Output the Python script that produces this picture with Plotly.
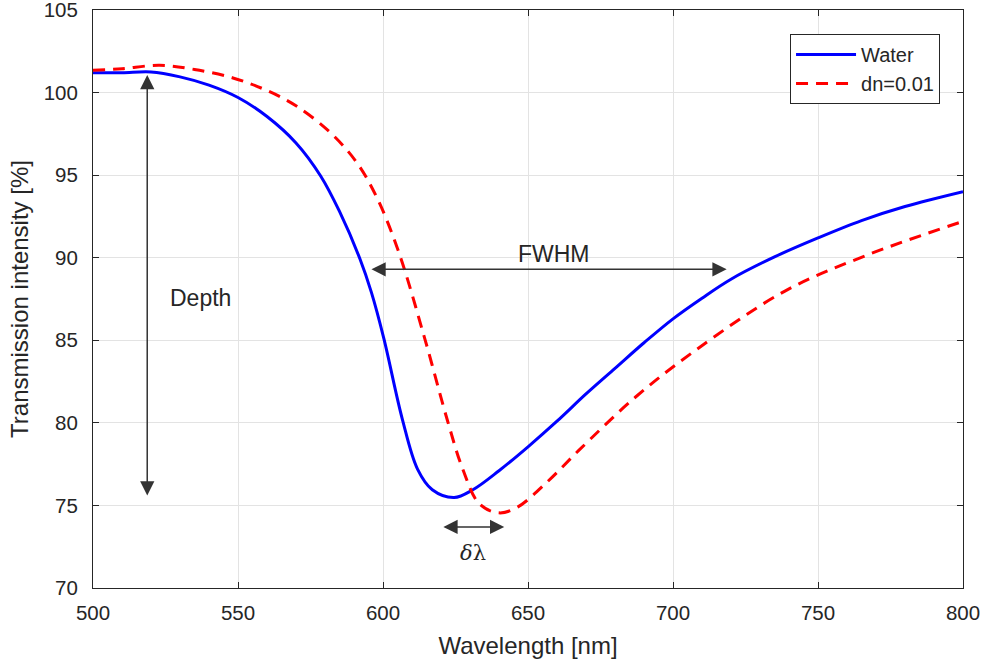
import plotly.graph_objects as go

# Transmission spectra: water reference and index-shifted (dn = 0.01)
water_wl = [500, 510, 520, 530, 540, 550, 560, 570, 578.5, 585, 592, 596, 600.3,
            606.7, 611.9, 617, 624.5, 631, 640, 650, 660, 670, 680, 690, 700, 710,
            720, 735, 750, 765, 780, 800]
water_t = [101.2, 101.2, 101.25, 100.95, 100.45, 99.7, 98.55, 96.95, 94.95, 92.8, 89.95,
           87.9, 85.1, 80.2, 77.2, 75.95, 75.48, 75.95, 77.1, 78.55, 80.1, 81.75,
           83.3, 84.85, 86.3, 87.55, 88.7, 90.05, 91.2, 92.25, 93.1, 94.0]

dn_wl = [500, 510, 523, 535, 548, 559, 570, 582, 591, 598, 605.5, 614.4, 622.3,
         627.5, 633.2, 640, 646.4, 656.8, 667.5, 687, 707.5, 738.6, 767.4, 800]
dn_t = [101.35, 101.45, 101.65, 101.4, 100.9, 100.2, 99.2, 97.55, 95.75, 93.6,
        90.3, 85.1, 80.1, 77.2, 75.1, 74.55, 74.9, 76.45, 78.33, 81.55, 84.36,
        87.98, 90.19, 92.2]

series_names = ["Water", "dn=0.01"]
x_ticks = [500, 550, 600, 650, 700, 750, 800]
y_ticks = [70, 75, 80, 85, 90, 95, 100, 105]

# Annotation arrows: (x0, y0, x1, y1)
depth_arrow = (518.7, 101.15, 518.7, 75.6)
fwhm_arrow = (595.5, 89.3, 718.5, 89.3)
dl_arrow = (620.3, 73.7, 641.8, 73.7)

FONT = "Liberation Sans, Arial, Helvetica, sans-serif"
AX = "#262626"

fig = go.Figure()
fig.add_trace(go.Scatter(x=water_wl, y=water_t, mode="lines", name=series_names[0],
                         line=dict(color="#0000ff", width=3, shape="spline", smoothing=1.0)))
fig.add_trace(go.Scatter(x=dn_wl, y=dn_t, mode="lines", name=series_names[1],
                         line=dict(color="#ff0000", width=3, dash="12px,8px",
                                   shape="spline", smoothing=1.0)))

for x0, y0, x1, y1 in (depth_arrow, fwhm_arrow, dl_arrow):
    fig.add_annotation(x=x1, y=y1, ax=x0, ay=y0, xref="x", yref="y", axref="x", ayref="y",
                       text="", showarrow=True, arrowhead=2, arrowsize=1.9,
                       arrowwidth=1.5, arrowcolor="#333333", arrowside="end+start")

fig.add_annotation(x=537, y=87.56, text="Depth", showarrow=False,
                   font=dict(family=FONT, size=23, color=AX))
fig.add_annotation(x=659, y=90.2, text="FWHM", showarrow=False,
                   font=dict(family=FONT, size=23, color=AX))
fig.add_annotation(x=631, y=72.1, text="<i>δ</i>λ", showarrow=False,
                   font=dict(family="DejaVu Serif, serif", size=21, color=AX))

axis_common = dict(showline=True, linecolor=AX, linewidth=1, mirror="allticks",
                   ticks="inside", ticklen=6, tickcolor=AX, showgrid=True,
                   gridcolor="#e3e3e3", gridwidth=1, zeroline=False,
                   ticklabeloverflow="allow", automargin=False,
                   tickfont=dict(family=FONT, size=20.5, color=AX))

fig.update_xaxes(range=[500, 800], tickvals=x_ticks, ticklabelstandoff=6,
                 title=dict(text="Wavelength [nm]",
                            font=dict(family=FONT, size=24, color=AX), standoff=14),
                 **axis_common)
fig.update_yaxes(range=[70, 105], tickvals=y_ticks, ticklabelstandoff=10,
                 title=dict(text="Transmission intensity [%]",
                            font=dict(family=FONT, size=24, color=AX), standoff=8),
                 **axis_common)

fig.update_layout(
    width=987, height=666,
    margin=dict(l=93, r=24, t=10, b=78),
    paper_bgcolor="white", plot_bgcolor="white",
    showlegend=True,
    legend=dict(x=0.9736, y=0.9586, xanchor="right", yanchor="top",
                bgcolor="white", bordercolor=AX, borderwidth=1,
                font=dict(family=FONT, size=20, color=AX),
                tracegroupgap=0, itemwidth=60),
)

fig.write_html("out.html")
